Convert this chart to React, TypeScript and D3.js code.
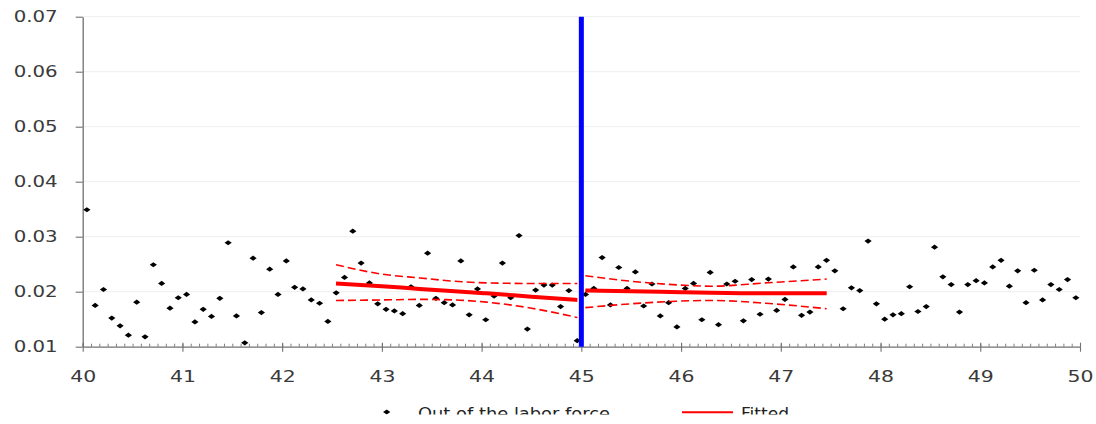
import React, { useEffect, useRef } from 'react';
import * as d3 from 'd3';

const W = 1096;
const H = 424;

// age in months, one bin per month from 40y0m to 49y11m (plotted at the bin centre)
const ageMonths = d3.range(480, 600);

const outOfLaborForce = [
    0.0349, 0.0175, 0.0204, 0.0152, 0.0138, 0.0121, 0.0181, 0.0118, 0.0249, 0.0215,
    0.0170, 0.0189, 0.0195, 0.0145, 0.0168, 0.0155, 0.0188, 0.0289, 0.0156, 0.0107,
    0.0261, 0.0162, 0.0241, 0.0195, 0.0256, 0.0208, 0.0205, 0.0185, 0.0179, 0.0146,
    0.0198, 0.0226, 0.0310, 0.0252, 0.0216, 0.0178, 0.0168, 0.0165, 0.0160, 0.0209,
    0.0175, 0.0270, 0.0188, 0.0180, 0.0176, 0.0256, 0.0158, 0.0205, 0.0149, 0.0192,
    0.0252, 0.0189, 0.0302, 0.0132, 0.0203, 0.0212, 0.0212, 0.0173, 0.0202, 0.0111,
    0.0195, 0.0206, 0.0262, 0.0176, 0.0244, 0.0206, 0.0236, 0.0174, 0.0214, 0.0156,
    0.0180, 0.0136, 0.0206, 0.0215, 0.0149, 0.0235, 0.0140, 0.0214, 0.0219, 0.0147,
    0.0222, 0.0159, 0.0223, 0.0166, 0.0186, 0.0245, 0.0157, 0.0163, 0.0245, 0.0257,
    0.0238, 0.0169, 0.0207, 0.0202, 0.0292, 0.0178, 0.0150, 0.0158, 0.0160, 0.0209,
    0.0164, 0.0173, 0.0281, 0.0227, 0.0213, 0.0163, 0.0213, 0.0220, 0.0216, 0.0245,
    0.0257, 0.0210, 0.0238, 0.0180, 0.0239, 0.0185, 0.0213, 0.0204, 0.0222, 0.0189,
];

// fitted values and bands, left of the cutoff
const leftAges = [42.54, 43.0, 43.38, 43.73, 44.05, 44.5, 44.96];
const leftFit = [0.0215, 0.0210, 0.0205, 0.0201, 0.0197, 0.0191, 0.0185];
const leftUpper = [0.0249, 0.0232, 0.0225, 0.0219, 0.0216, 0.0215, 0.0215];
const leftLower = [0.0184, 0.0185, 0.0186, 0.0185, 0.0181, 0.0170, 0.0153];

// right of the cutoff
const rightAges = [45.04, 45.5, 46.0, 46.3, 46.85, 47.46];
const rightFit = [0.0202, 0.0201, 0.0199, 0.0198, 0.0197, 0.0197];
const rightUpper = [0.0229, 0.0219, 0.0212, 0.0210, 0.0216, 0.0223];
const rightLower = [0.0171, 0.0178, 0.0183, 0.0184, 0.0179, 0.0169];

const yTicks = [0.01, 0.02, 0.03, 0.04, 0.05, 0.06, 0.07];
const xTicks = [40, 41, 42, 43, 44, 45, 46, 47, 48, 49, 50];
const cutoff = 45;

const FONT = '"DejaVu Sans", Verdana, sans-serif';

export default function App() {
    const svgRef = useRef<SVGSVGElement>(null);

    useEffect(() => {
        if (!svgRef.current) return;
        const svg = d3.select(svgRef.current);
        svg.selectAll('*').remove();

        const x = d3.scaleLinear().domain([40, 50]).range([82.7, 1080]);
        const y = d3.scaleLinear().domain([0.01, 0.07]).range([346.7, 16.7]);

        svg.append('rect').attr('width', W).attr('height', H).attr('fill', 'white');

        // faint gridlines
        svg.append('g')
            .selectAll('line')
            .data(yTicks.slice(1))
            .join('line')
            .attr('x1', x(40))
            .attr('x2', x(50))
            .attr('y1', d => y(d))
            .attr('y2', d => y(d))
            .attr('stroke', '#eeeeee')
            .attr('stroke-width', 1);

        // y axis
        const gy = svg.append('g')
            .attr('transform', `translate(${x(40)},0)`)
            .call(d3.axisLeft(y).tickValues(yTicks).tickSizeInner(7).tickSizeOuter(0)
                .tickPadding(18).tickFormat(d3.format('.2f')));
        gy.select('.domain').attr('stroke', '#707070').attr('stroke-width', 1.3);
        gy.selectAll('.tick line').attr('stroke', '#707070').attr('stroke-width', 1.1);
        gy.selectAll('text')
            .attr('font-family', FONT)
            .attr('font-size', 15)
            .attr('fill', '#3a3a3a')
            .attr('textLength', 44)
            .attr('lengthAdjust', 'spacingAndGlyphs');

        // x axis: minor monthly ticks inside
        const gMinor = svg.append('g')
            .attr('transform', `translate(0,${y(0.01)})`)
            .call(d3.axisBottom(x).tickValues(d3.range(480, 601).map(m => m / 12))
                .tickSizeInner(-3).tickSizeOuter(0).tickFormat(() => ''));
        gMinor.select('.domain').remove();
        gMinor.selectAll('.tick line').attr('stroke', '#808080').attr('stroke-width', 1);

        const gUp = svg.append('g')
            .attr('transform', `translate(0,${y(0.01)})`)
            .call(d3.axisBottom(x).tickValues(xTicks).tickSizeInner(-4).tickSizeOuter(0).tickFormat(() => ''));
        gUp.select('.domain').remove();
        gUp.selectAll('.tick line').attr('stroke', '#707070').attr('stroke-width', 1.1);

        const gx = svg.append('g')
            .attr('transform', `translate(0,${y(0.01)})`)
            .call(d3.axisBottom(x).tickValues(xTicks).tickSizeInner(5).tickSizeOuter(0)
                .tickPadding(20).tickFormat(d3.format('d')));
        gx.select('.domain').attr('stroke', '#707070').attr('stroke-width', 1.3);
        gx.selectAll('.tick line').attr('stroke', '#707070').attr('stroke-width', 1.1);
        gx.selectAll('text')
            .attr('font-family', FONT)
            .attr('font-size', 15)
            .attr('fill', '#3a3a3a')
            .attr('textLength', 26)
            .attr('lengthAdjust', 'spacingAndGlyphs');

        // scatter points (black diamonds)
        const diamond = 'M0,-2.6L3.6,0L0,2.6L-3.6,0Z';
        svg.append('g')
            .selectAll('path')
            .data(ageMonths.map((m, i) => ({ age: (m + 0.5) / 12, v: outOfLaborForce[i] })))
            .join('path')
            .attr('d', diamond)
            .attr('transform', d => `translate(${x(d.age)},${y(d.v)})`)
            .attr('fill', '#000');

        // fitted lines and bands
        const line = d3.line<[number, number]>()
            .x(d => x(d[0]))
            .y(d => y(d[1]))
            .curve(d3.curveMonotoneX);
        const zip = (a: number[], b: number[]) => a.map((v, i) => [v, b[i]] as [number, number]);

        const gFit = svg.append('g').attr('fill', 'none').attr('stroke', '#ff0000');
        [zip(leftAges, leftUpper), zip(leftAges, leftLower), zip(rightAges, rightUpper), zip(rightAges, rightLower)]
            .forEach(pts => {
                gFit.append('path')
                    .attr('d', line(pts))
                    .attr('stroke-width', 1.6)
                    .attr('stroke-dasharray', '8,4');
            });
        [zip(leftAges, leftFit), zip(rightAges, rightFit)].forEach(pts => {
            gFit.append('path')
                .attr('d', line(pts))
                .attr('stroke-width', 4);
        });

        // cutoff
        svg.append('line')
            .attr('x1', x(cutoff))
            .attr('x2', x(cutoff))
            .attr('y1', y(0.07))
            .attr('y2', y(0.01))
            .attr('stroke', '#0000ff')
            .attr('stroke-width', 5);

        // legend (cut off at the bottom as in the original image)
        svg.append('clipPath')
            .attr('id', 'legend-clip')
            .append('rect')
            .attr('x', 0)
            .attr('y', 0)
            .attr('width', W)
            .attr('height', 414.5);

        const lg = svg.append('g').attr('clip-path', 'url(#legend-clip)');
        lg.append('path')
            .attr('d', diamond)
            .attr('transform', 'translate(386.7,412)')
            .attr('fill', '#000');
        lg.append('text')
            .attr('x', 418)
            .attr('y', 419)
            .attr('font-family', FONT)
            .attr('font-size', 15)
            .attr('fill', '#222')
            .attr('textLength', 192)
            .attr('lengthAdjust', 'spacingAndGlyphs')
            .text('Out of the labor force');
        lg.append('line')
            .attr('x1', 682)
            .attr('x2', 733)
            .attr('y1', 412.3)
            .attr('y2', 412.3)
            .attr('stroke', '#ff0000')
            .attr('stroke-width', 2);
        lg.append('text')
            .attr('x', 741)
            .attr('y', 419)
            .attr('font-family', FONT)
            .attr('font-size', 15)
            .attr('fill', '#222')
            .attr('textLength', 48)
            .attr('lengthAdjust', 'spacingAndGlyphs')
            .text('Fitted');
    }, []);

    return (
        <svg
            ref={svgRef}
            width={W}
            height={H}
            style={{ position: 'absolute', left: 0, top: 0, display: 'block' }}
        />
    );
}
